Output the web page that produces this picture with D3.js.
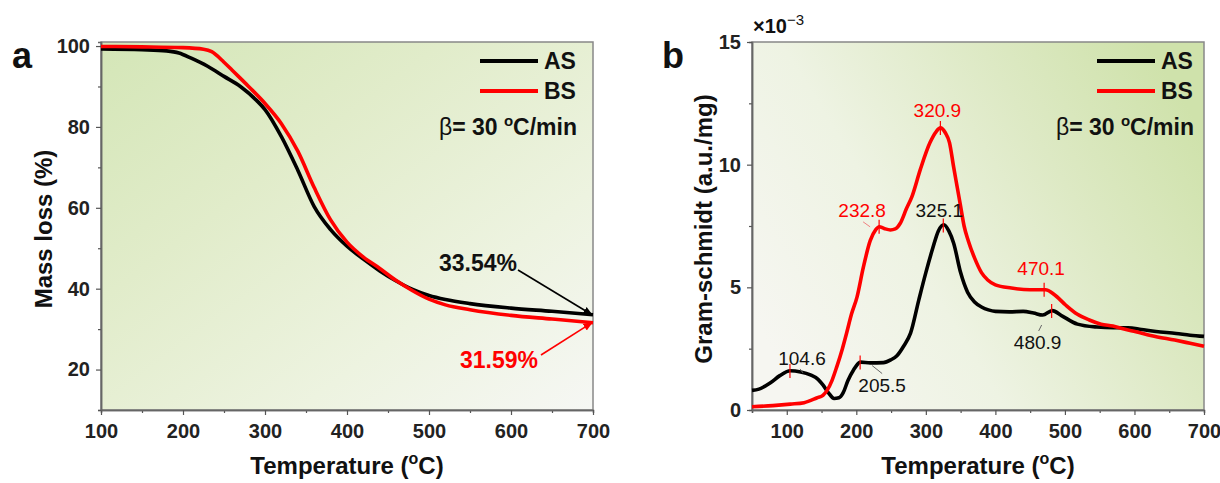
<!DOCTYPE html>
<html>
<head>
<meta charset="utf-8">
<script src="https://cdn.jsdelivr.net/npm/d3@7"></script>
<style>
    body { margin: 0; background: #fff; }
    svg text { font-family: "Liberation Sans", Arial, sans-serif; }
    .axis .tick text { font-weight: bold; font-size: 20px; fill: #222; }
    .axis path.domain { stroke: #666; stroke-width: 1.5; }
    .axis .tick line { stroke: #555; stroke-width: 1.2; }
    .line { fill: none; stroke-width: 3.6; stroke-linejoin: round; }
</style>
</head>
<body>
<div class="chart"></div>
<script>
// panel a : mass loss (%)
var tempA_AS = [100, 150, 180, 195, 210, 230, 250, 270, 290, 300, 320, 340, 360, 380, 400, 420, 440, 460, 480, 500, 520, 550, 600, 650, 700];
var massAS = [99.3, 99.1, 98.8, 98.3, 97.0, 95.0, 92.5, 90.0, 86.5, 84.3, 77.6, 69.3, 60.3, 54.6, 50.5, 47.3, 44.4, 41.9, 39.8, 38.3, 37.3, 36.3, 35.2, 34.4, 33.54];
var tempA_BS = [100, 150, 200, 225, 235, 250, 260, 280, 300, 320, 340, 360, 380, 400, 420, 440, 460, 480, 500, 520, 550, 600, 650, 700];
var massBS = [99.9, 99.8, 99.6, 99.2, 98.6, 96.0, 94.0, 90.0, 85.8, 80.8, 74.0, 65.0, 57.0, 51.5, 47.8, 45.0, 42.0, 39.5, 37.4, 36.0, 34.8, 33.4, 32.5, 31.59];

// panel b : Gram-schmidt (x10^-3 a.u./mg)
var tempB_AS = [50, 60, 76, 90, 105, 120, 134, 145, 152, 160, 168, 175, 181, 188, 196, 206, 220, 239, 250, 258, 268, 278, 290, 300, 310, 318, 326, 333, 340, 350, 360, 370, 380, 390, 400, 420, 440, 455, 468, 482, 495, 518, 546, 570, 591, 610, 631, 660, 680, 700];
var gsAS = [0.8, 0.85, 1.1, 1.4, 1.6, 1.55, 1.43, 1.25, 1.02, 0.7, 0.47, 0.5, 0.7, 1.2, 1.63, 1.95, 1.92, 1.93, 2.05, 2.2, 2.6, 3.13, 4.5, 5.6, 6.6, 7.3, 7.55, 7.3, 6.8, 5.6, 4.8, 4.4, 4.2, 4.08, 4.02, 4.0, 4.02, 3.95, 3.87, 4.05, 3.85, 3.5, 3.38, 3.35, 3.35, 3.28, 3.2, 3.12, 3.05, 3.0];
var tempB_BS = [50, 80, 105, 125, 143, 152, 158, 165, 172, 180, 186, 193, 201, 210, 220, 228, 233, 240, 249, 256, 263, 272, 280, 292, 306, 315, 321, 328, 334, 340, 345, 350, 355, 361, 370, 380, 389, 400, 423, 450, 472, 485, 501, 518, 535, 552, 569, 585, 602, 630, 658, 680, 700];
var gsBS = [0.13, 0.18, 0.24, 0.3, 0.49, 0.6, 0.8, 1.2, 1.77, 2.5, 3.13, 3.9, 4.6, 5.8, 6.9, 7.35, 7.47, 7.4, 7.34, 7.38, 7.6, 8.2, 8.7, 9.8, 10.9, 11.35, 11.5, 11.3, 10.9, 9.9, 9.1, 8.3, 7.5, 6.9, 6.2, 5.6, 5.3, 5.1, 4.97, 4.9, 4.9, 4.7, 4.28, 3.9, 3.67, 3.5, 3.42, 3.3, 3.19, 3.0, 2.85, 2.72, 2.6];

var seriesNames = ["AS", "BS"];
var seriesColors = ["#000000", "#ff0000"];
var xTicks = [100, 200, 300, 400, 500, 600, 700];
var yTicksA = [20, 40, 60, 80, 100];
var yTicksB = [0, 5, 10, 15];
var residues = ["33.54%", "31.59%"];
var peaksAS = [104.6, 205.5, 325.1, 480.9];
var peaksBS = [232.8, 320.9, 470.1];

var svg = d3.select(".chart").append("svg")
    .attr("width", 1220)
    .attr("height", 483);

var defs = svg.append("defs");

function addGradient(id, x1, y1, x2, y2, stops) {
    var g = defs.append("linearGradient")
        .attr("id", id)
        .attr("x1", x1).attr("y1", y1)
        .attr("x2", x2).attr("y2", y2);
    stops.forEach(function (s) {
        g.append("stop").attr("offset", s[0]).attr("stop-color", s[1]);
    });
}

addGradient("bgA", 0, 0, 1, 1, [[0, "#d4e6b7"], [0.35, "#e1ecca"], [0.7, "#edf3e0"], [1, "#f6f7f4"]]);
addGradient("bgB", 0, 0.75, 1, 0.25, [[0, "#f6f6f1"], [0.35, "#eef3e3"], [0.7, "#dde9c4"], [1, "#cfe2ab"]]);

// arrow heads
seriesColors.forEach(function (c, i) {
    defs.append("marker")
        .attr("id", "arrow" + i)
        .attr("viewBox", "0 0 10 10")
        .attr("refX", 9).attr("refY", 5)
        .attr("markerWidth", 6).attr("markerHeight", 6)
        .attr("markerUnits", "strokeWidth")
        .attr("orient", "auto")
        .append("path")
        .attr("d", "M0,1 L10,5 L0,9 z")
        .attr("fill", c);
});

function valueAt(xs, ys, t) {
    for (var k = 0; k < xs.length - 1; k++) {
        if (t >= xs[k] && t <= xs[k + 1]) {
            return ys[k] + (ys[k + 1] - ys[k]) * (t - xs[k]) / (xs[k + 1] - xs[k]);
        }
    }
    return ys[ys.length - 1];
}

function betaText(g, x, y) {
    var t = g.append("text")
        .attr("x", x).attr("y", y)
        .attr("text-anchor", "end")
        .attr("font-size", 23)
        .attr("font-weight", "bold")
        .attr("fill", "#111");
    t.append("tspan").attr("font-weight", "normal").text("β");
    t.append("tspan").text("= 30 ");
    t.append("tspan").attr("font-size", 15).attr("dy", -9).text("o");
    t.append("tspan").attr("dy", 9).text("C/min");
}

function drawPanel(opt) {
    var x = d3.scaleLinear().domain(opt.xDomain).range([opt.left, opt.right]);
    var y = d3.scaleLinear().domain(opt.yDomain).range([410, 42]);
    var g = svg.append("g");

    g.append("rect")
        .attr("x", opt.left).attr("y", 42)
        .attr("width", opt.right - opt.left).attr("height", 368)
        .attr("fill", "url(#" + opt.bg + ")")
        .attr("stroke", "#888")
        .attr("stroke-width", 1.5);

    // minor ticks
    g.append("g")
        .attr("class", "axis")
        .attr("transform", "translate(0,410)")
        .call(d3.axisBottom(x).tickValues(d3.range(opt.xDomain[0] <= 50 ? 50 : 150, 701, 100)).tickSize(3).tickFormat(""));
    g.append("g")
        .attr("class", "axis")
        .attr("transform", "translate(" + opt.left + ",0)")
        .call(d3.axisLeft(y).tickValues(opt.yMinor).tickSize(3).tickFormat(""));

    g.append("g")
        .attr("class", "axis")
        .attr("transform", "translate(0,410)")
        .call(d3.axisBottom(x).tickValues(xTicks).tickSize(5).tickSizeOuter(0).tickPadding(9));
    g.append("g")
        .attr("class", "axis")
        .attr("transform", "translate(" + opt.left + ",0)")
        .call(d3.axisLeft(y).tickValues(opt.yTicks).tickSize(5).tickSizeOuter(0).tickPadding(6));

    var line = d3.line()
        .x(function (d) { return x(d[0]); })
        .y(function (d) { return y(d[1]); })
        .curve(d3.curveMonotoneX);

    opt.series.forEach(function (s, i) {
        g.append("path")
            .datum(d3.zip(s[0], s[1]))
            .attr("class", "line")
            .attr("stroke", seriesColors[i])
            .attr("d", line);
    });

    // legend
    seriesNames.forEach(function (name, i) {
        var ly = 61 + i * 30;
        g.append("line")
            .attr("x1", opt.legendX).attr("x2", opt.legendX + 58)
            .attr("y1", ly).attr("y2", ly)
            .attr("stroke", seriesColors[i])
            .attr("stroke-width", 4);
        g.append("text")
            .attr("x", opt.legendX + 64).attr("y", ly + 8)
            .attr("font-size", 23).attr("font-weight", "bold")
            .attr("fill", "#111")
            .text(name);
    });
    betaText(g, opt.legendX + 97, 135);

    // axis titles
    var xt = g.append("text")
        .attr("x", (opt.left + opt.right) / 2).attr("y", 474)
        .attr("text-anchor", "middle")
        .attr("font-size", 24).attr("font-weight", "bold")
        .attr("fill", "#111");
    xt.append("tspan").text("Temperature (");
    xt.append("tspan").attr("font-size", 16).attr("dy", -10).text("o");
    xt.append("tspan").attr("dy", 10).text("C)");

    g.append("text")
        .attr("transform", "translate(" + opt.titleX + ",229) rotate(-90)")
        .attr("text-anchor", "middle")
        .attr("font-size", 24).attr("font-weight", "bold")
        .attr("fill", "#111")
        .text(opt.yTitle);

    g.append("text")
        .attr("x", opt.letterX).attr("y", 68)
        .attr("font-size", 36).attr("font-weight", "bold")
        .attr("fill", "#111")
        .text(opt.letter);

    return { g: g, x: x, y: y };
}

// ---- panel a
var pa = drawPanel({
    xDomain: [100, 700], yDomain: [10, 101],
    left: 101, right: 593, bg: "bgA",
    yTicks: yTicksA, yMinor: [10, 30, 50, 70, 90],
    series: [[tempA_AS, massAS], [tempA_BS, massBS]],
    legendX: 480, titleX: 52, yTitle: "Mass loss (%)",
    letter: "a", letterX: 12
});

var ends = [massAS[massAS.length - 1], massBS[massBS.length - 1]];
var labelPos = [[478, 271], [499, 368]];
var arrowFrom = [[518, 270], [541, 355]];
residues.forEach(function (r, i) {
    pa.g.append("text")
        .attr("x", labelPos[i][0]).attr("y", labelPos[i][1])
        .attr("text-anchor", "middle")
        .attr("font-size", 23).attr("font-weight", "bold")
        .attr("fill", i ? "#ff0000" : "#111")
        .text(r);
    pa.g.append("line")
        .attr("x1", arrowFrom[i][0]).attr("y1", arrowFrom[i][1])
        .attr("x2", pa.x(700) - 1).attr("y2", pa.y(ends[i]))
        .attr("stroke", seriesColors[i])
        .attr("stroke-width", 1.6)
        .attr("marker-end", "url(#arrow" + i + ")");
});

// ---- panel b
var pb = drawPanel({
    xDomain: [50, 700], yDomain: [0, 15],
    left: 752, right: 1204, bg: "bgB",
    yTicks: yTicksB, yMinor: [2.5, 7.5, 12.5],
    series: [[tempB_AS, gsAS], [tempB_BS, gsBS]],
    legendX: 1097, titleX: 712, yTitle: "Gram-schmidt (a.u./mg)",
    letter: "b", letterX: 662
});

var expo = pb.g.append("text")
    .attr("x", 753).attr("y", 33)
    .attr("font-size", 20).attr("font-weight", "bold")
    .attr("fill", "#111");
expo.append("tspan").text("×10");
expo.append("tspan").attr("font-size", 15).attr("font-weight", "normal").attr("dy", -8).text("−3");

// peak labels: text centre offset, leader start/end (relative to peak)
var offAS = [[12, -13, 10, -2, 13, 2], [22, 22, 12, 3, 22, 11], [-4, -15], [-14, 31, -10, 14, -13, 20]];
var offBS = [[-17, -17, -16, -5, -9, 0], [-3, -18], [-3, -22]];

function peakLabels(peaks, xs, ys, offs, color) {
    peaks.forEach(function (p, i) {
        var px = pb.x(p);
        var py = pb.y(valueAt(xs, ys, p));
        var o = offs[i];
        pb.g.append("line")
            .attr("x1", px).attr("x2", px)
            .attr("y1", py - 7).attr("y2", py + 7)
            .attr("stroke", "#ff0000")
            .attr("stroke-width", 1.2);
        if (o.length > 2) {
            pb.g.append("line")
                .attr("x1", px + o[2]).attr("y1", py + o[3])
                .attr("x2", px + o[4]).attr("y2", py + o[5])
                .attr("stroke", color === "#111" ? "#666" : "#f08080")
                .attr("stroke-width", 1);
        }
        pb.g.append("text")
            .attr("x", px + o[0]).attr("y", py + o[1] + 7)
            .attr("text-anchor", "middle")
            .attr("font-size", 19)
            .attr("fill", color)
            .text(p.toFixed(1));
    });
}

peakLabels(peaksAS, tempB_AS, gsAS, offAS, "#111");
peakLabels(peaksBS, tempB_BS, gsBS, offBS, "#ff0000");
</script>
</body>
</html>
